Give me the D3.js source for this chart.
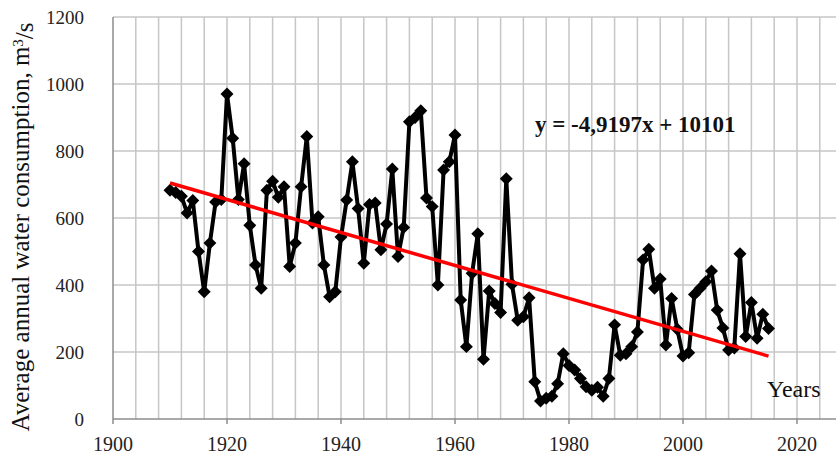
<!DOCTYPE html>
<html>
<head>
<meta charset="utf-8">
<script src="https://cdn.jsdelivr.net/npm/d3@7"></script>
<style>
  body { margin: 0; background: #fff; }
  svg text { font-family: "Liberation Serif", "Times New Roman", serif; }
</style>
</head>
<body>
<div id="chart"></div>
<script>
// annual values, one per year starting at firstYear
const firstYear = 1910;
const flow = [
    683, 676, 665, 615, 652, 500, 380, 525, 648, 655,
    970, 838, 655, 762, 578, 460, 390, 683, 710, 662,
    693, 455, 525, 693, 843, 585, 604, 460, 365, 380,
    543, 654, 768, 628, 465, 640, 645, 505, 582, 746,
    485, 572, 887, 900, 920, 660, 634, 400, 743, 768,
    848, 355, 216, 435, 553, 178, 382, 345, 318, 717,
    402, 295, 305, 362, 111, 54, 62, 68, 105, 195,
    160, 146, 121, 96, 86, 95, 68, 121, 281, 190,
    195, 216, 260, 475, 507, 390, 418, 221, 360, 268,
    188, 198, 372, 390, 410, 442, 325, 272, 206, 212,
    493, 246, 348, 241, 313, 270
];
const xTicks = [1900, 1920, 1940, 1960, 1980, 2000, 2020];
const yTicks = [0, 200, 400, 600, 800, 1000, 1200];
const trendSlope = -4.9197;
const trendIntercept = 10101;
const trendLabel = "y = -4,9197x + 10101";

const width = 836;
const height = 457;

const svg = d3.select("#chart")
    .append("svg")
    .attr("width", width)
    .attr("height", height);

const x = d3.scaleLinear().domain([1900, 2020]).range([113, 797]);
const y = d3.scaleLinear().domain([0, 1200]).range([419, 17]);

const data = flow.map((v, i) => ({ year: firstYear + i, value: v }));

// vertical grid every 4 years
const vGrid = d3.range(1904, 2025, 4);
svg.append("g")
    .selectAll("line")
    .data(vGrid)
    .enter()
    .append("line")
    .attr("x1", d => x(d)).attr("x2", d => x(d))
    .attr("y1", y(1200)).attr("y2", y(0))
    .attr("stroke", "#c6c6c6")
    .attr("stroke-width", 1.5);

// horizontal grid
svg.append("g")
    .selectAll("line")
    .data(yTicks.slice(1))
    .enter()
    .append("line")
    .attr("x1", x(1900)).attr("x2", width)
    .attr("y1", d => y(d)).attr("y2", d => y(d))
    .attr("stroke", "#c6c6c6")
    .attr("stroke-width", 1.5);

// axes
svg.append("line")
    .attr("x1", x(1900)).attr("x2", width)
    .attr("y1", y(0)).attr("y2", y(0))
    .attr("stroke", "#8c8c8c").attr("stroke-width", 1.5);
svg.append("line")
    .attr("x1", x(1900)).attr("x2", x(1900))
    .attr("y1", y(1200)).attr("y2", y(0))
    .attr("stroke", "#8c8c8c").attr("stroke-width", 1.5);

svg.append("g")
    .selectAll("line")
    .data(xTicks)
    .enter()
    .append("line")
    .attr("x1", d => x(d)).attr("x2", d => x(d))
    .attr("y1", y(0)).attr("y2", y(0) + 5)
    .attr("stroke", "#8c8c8c").attr("stroke-width", 1.5);

svg.append("g")
    .selectAll("text")
    .data(xTicks)
    .enter()
    .append("text")
    .attr("x", d => x(d))
    .attr("y", 451)
    .attr("text-anchor", "middle")
    .attr("font-size", 20)
    .attr("fill", "#222")
    .text(d => d);

svg.append("g")
    .selectAll("text")
    .data(yTicks)
    .enter()
    .append("text")
    .attr("x", 84)
    .attr("y", d => y(d))
    .attr("dy", "0.35em")
    .attr("text-anchor", "end")
    .attr("font-size", 19)
    .attr("fill", "#222")
    .text(d => d);

// y axis title
const yTitle = svg.append("text")
    .attr("transform", "translate(29," + 227 + ") rotate(-90)")
    .attr("text-anchor", "middle")
    .attr("font-size", 25)
    .attr("fill", "#111");
yTitle.append("tspan").text("Average annual water consumption, m");
yTitle.append("tspan").attr("dy", "-0.4em").attr("font-size", 15).text("3");
yTitle.append("tspan").attr("dy", "0.4em").text("/s");

svg.append("text")
    .attr("x", 767)
    .attr("y", 397)
    .attr("font-size", 24)
    .attr("fill", "#111")
    .text("Years");

// data line
const line = d3.line()
    .x(d => x(d.year))
    .y(d => y(d.value));

svg.append("path")
    .datum(data)
    .attr("d", line)
    .attr("fill", "none")
    .attr("stroke", "#000")
    .attr("stroke-width", 4)
    .attr("stroke-linejoin", "round");

svg.append("g")
    .selectAll("path")
    .data(data)
    .enter()
    .append("path")
    .attr("d", d3.symbol(d3.symbolSquare, 84))
    .attr("transform", d => "translate(" + x(d.year) + "," + y(d.value) + ") rotate(45)")
    .attr("fill", "#000");

// linear trend
const trendYears = d3.extent(data, d => d.year);
svg.append("line")
    .attr("x1", x(trendYears[0]))
    .attr("y1", y(trendSlope * trendYears[0] + trendIntercept))
    .attr("x2", x(trendYears[1]))
    .attr("y2", y(trendSlope * trendYears[1] + trendIntercept))
    .attr("stroke", "#ff0000")
    .attr("stroke-width", 3.5);

svg.append("text")
    .attr("x", 535)
    .attr("y", 132)
    .attr("font-size", 23)
    .attr("font-weight", "bold")
    .attr("fill", "#111")
    .text(trendLabel);
</script>
</body>
</html>
